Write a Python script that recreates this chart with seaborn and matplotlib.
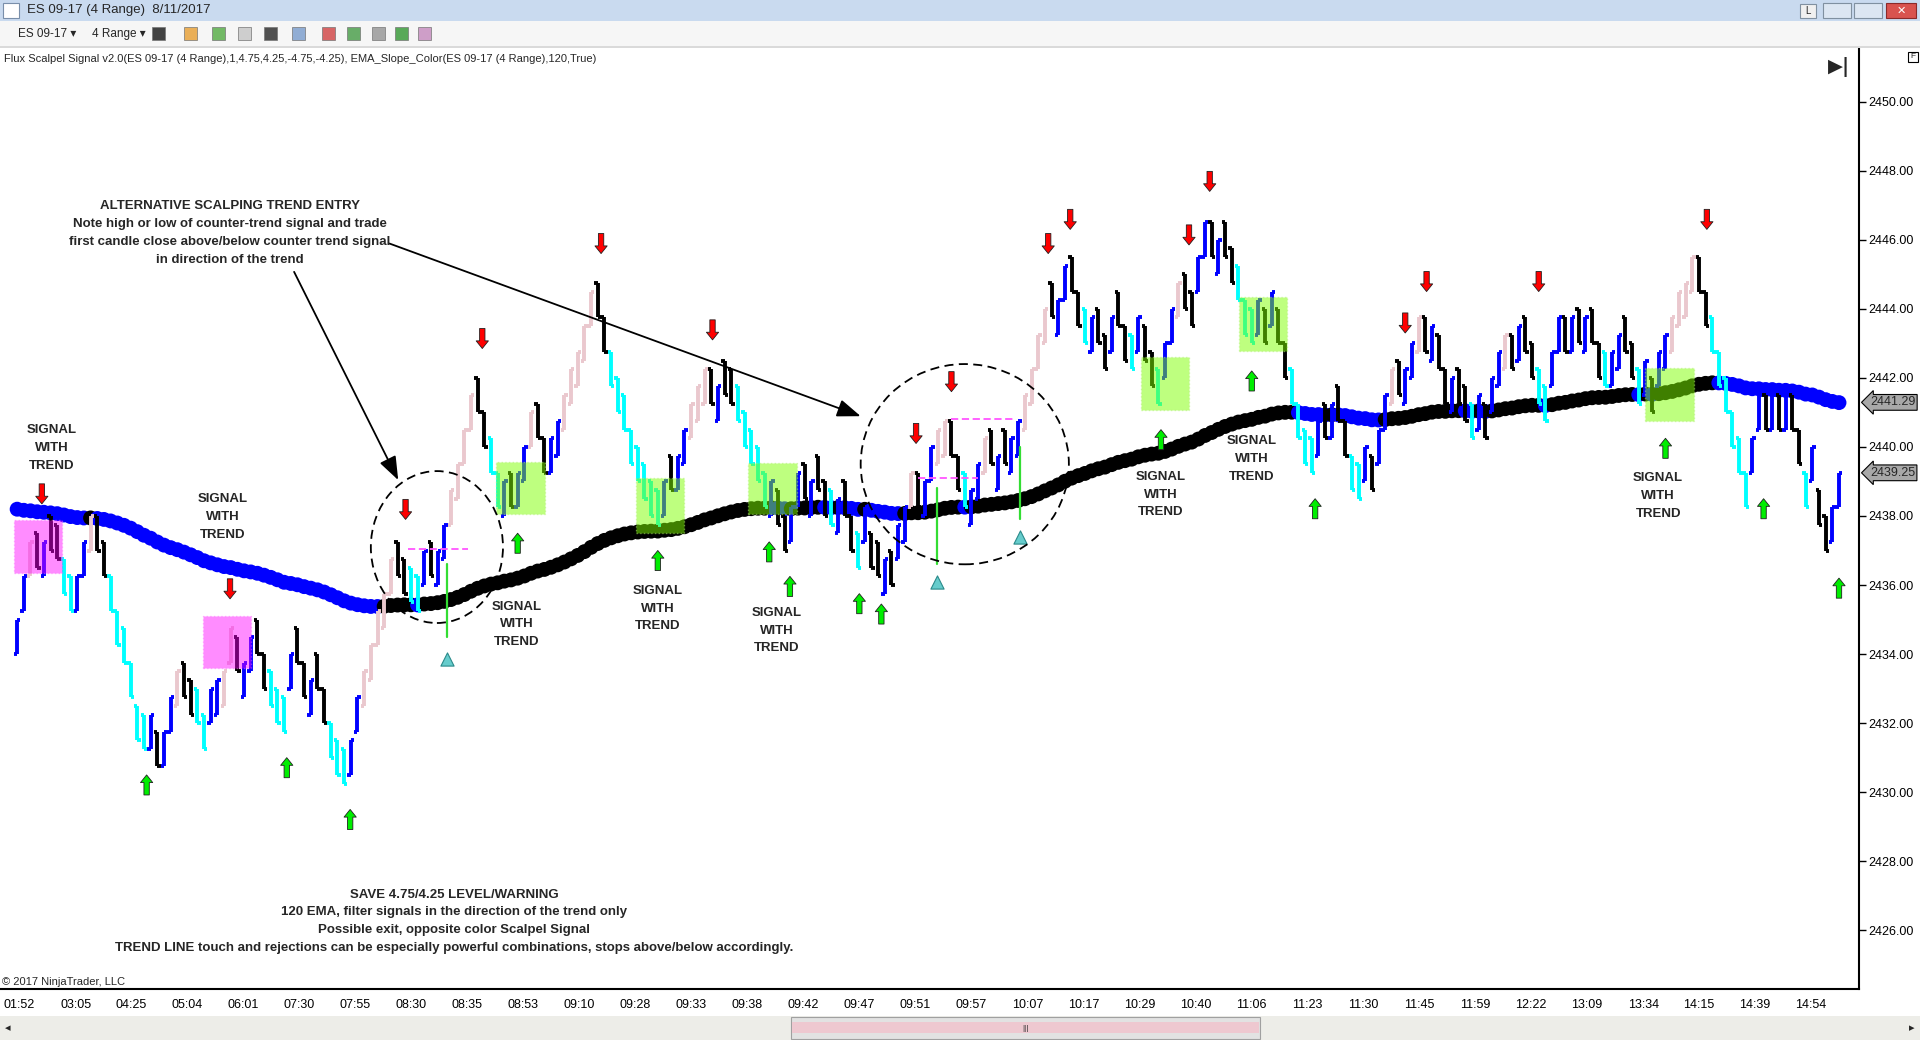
import numpy as np
import pandas as pd
import matplotlib
matplotlib.use('Agg')
import matplotlib.pyplot as plt
from matplotlib.patches import Rectangle, Ellipse
import seaborn as sns

# 4-range bar closes
closes = [
    2435.0, 2436.25, 2437.25, 2436.5, 2437.25, 2437.0, 2436.75, 2435.75,
    2435.25, 2436.25, 2437.25, 2438.0, 2437.0, 2436.25, 2435.25, 2434.25,
    2433.75, 2432.75, 2431.5, 2431.25, 2432.25, 2430.75, 2431.75, 2432.75,
    2433.5, 2432.75, 2432.25, 2432.0, 2431.25, 2433.0, 2433.25, 2433.5,
    2434.75, 2433.5, 2433.75, 2434.5, 2434.0, 2433.0, 2432.5, 2432.0,
    2431.75, 2434.0, 2433.75, 2432.75, 2433.25, 2433.0, 2432.0, 2431.0,
    2430.5, 2430.25, 2431.5, 2432.75, 2433.5, 2434.25, 2435.25, 2435.75,
    2436.75, 2436.25, 2435.75, 2435.5, 2435.25, 2437.0, 2436.25, 2437.0,
    2437.75, 2438.75, 2439.5, 2440.5, 2441.5, 2441.0, 2440.0, 2439.25,
    2438.25, 2439.0, 2438.25, 2439.25, 2440.0, 2441.0, 2440.25, 2439.25,
    2440.25, 2440.75, 2441.5, 2442.25, 2442.75, 2443.5, 2444.5, 2443.75,
    2442.75, 2441.75, 2441.0, 2440.5, 2439.5, 2439.0, 2438.5, 2438.0,
    2437.75, 2439.0, 2438.75, 2439.75, 2440.5, 2441.25, 2441.75, 2442.25,
    2441.25, 2441.75, 2441.5, 2441.25, 2440.75, 2440.0, 2439.5, 2439.0,
    2438.25, 2439.0, 2437.75, 2437.0, 2438.25, 2439.25, 2438.5, 2439.0,
    2438.75, 2438.0, 2437.75, 2438.5, 2438.0, 2437.0, 2436.5, 2438.25,
    2436.5, 2436.25, 2436.75, 2436.0, 2437.75, 2438.25, 2439.25, 2438.25,
    2439.0, 2440.0, 2440.5, 2440.75, 2439.75, 2438.75, 2438.25, 2438.75,
    2439.5, 2440.25, 2439.5,
    2439.75, 2439.5, 2440.25, 2440.75, 2441.5, 2442.25, 2443.25, 2444.0,
    2443.75, 2444.25, 2445.25, 2444.5, 2443.5, 2443.0, 2443.75, 2443.0,
    2442.25, 2443.75, 2443.5, 2442.5, 2442.25, 2443.75, 2442.5, 2441.75,
    2441.25, 2443.0, 2444.0, 2444.75, 2444.0, 2443.5, 2445.5, 2446.5,
    2445.5, 2446.0, 2445.5, 2444.75, 2444.25, 2443.25, 2443.0, 2444.25,
    2443.0, 2444.5, 2443.0, 2442.0, 2441.25, 2440.25, 2439.5, 2439.25,
    2440.75, 2440.25, 2441.25, 2440.75, 2439.75, 2438.75, 2438.5, 2440.0,
    2438.75, 2440.5, 2441.5, 2442.25, 2441.5, 2442.25, 2443.0, 2443.75,
    2442.75, 2443.5,
    2442.25, 2441.25, 2442.0, 2441.25, 2440.75, 2440.25, 2441.5, 2440.25,
    2442.0, 2442.75, 2443.25, 2442.25, 2443.5, 2442.75, 2442.0, 2441.25,
    2440.75, 2442.75, 2443.75, 2442.75, 2443.75, 2443.0, 2443.75, 2443.0,
    2442.0, 2441.75, 2442.75, 2443.25, 2442.75, 2442.0, 2441.25, 2442.5,
    2441.0, 2442.75, 2443.25, 2443.75, 2444.5, 2444.75, 2445.5, 2444.5,
    2443.5, 2442.75, 2441.75, 2441.0, 2440.0, 2439.25, 2438.25, 2440.25,
    2441.5, 2440.5, 2441.5, 2440.5, 2441.5, 2440.5, 2439.5, 2438.25,
    2440.0, 2437.75, 2437.0, 2438.25, 2439.25,
]
bar_range = 1.0
ema_period = 120
ema_seed = 2438.25          # EMA level where the chart starts
ema_last_label = 2441.29
last_price_label = 2439.25

time_labels = ['01:52', '03:05', '04:25', '05:04', '06:01', '07:30', '07:55', '08:30',
               '08:35', '08:53', '09:10', '09:28', '09:33', '09:38', '09:42', '09:47',
               '09:51', '09:57', '10:07', '10:17', '10:29', '10:40', '11:06', '11:23',
               '11:30', '11:45', '11:59', '12:22', '13:09', '13:34', '14:15', '14:39', '14:54']
price_ticks = list(range(2426, 2451, 2))

# scalpel signals (bar index, arrow tip price)
red_x = [3.7, 31.9, 58.2, 69.7, 87.5, 104.2, 134.7, 140.0, 154.5, 157.8, 175.6, 178.7,
         208.0, 211.2, 228.0, 253.2]
red_tip = [2438.35, 2435.6, 2437.9, 2442.85, 2445.6, 2443.1, 2440.1, 2441.6, 2445.6, 2446.3,
           2445.85, 2447.4, 2443.3, 2444.5, 2444.5, 2446.3]
green_x = [19.4, 40.4, 49.9, 75.0, 96.0, 112.7, 115.8, 126.2, 129.5, 171.4, 185.0, 194.5,
           247.0, 261.7, 273.0]
green_tip = [2430.5, 2431.0, 2429.5, 2437.5, 2437.0, 2437.25, 2436.25, 2435.75, 2435.45,
             2440.5, 2442.2, 2438.5, 2440.25, 2438.5, 2436.2]

# warning marks: triangle + green line
warn_x = [64.4, 137.8, 150.3]
warn_tri = [2433.85, 2436.1, 2437.4]
warn_lo = [2434.5, 2436.6, 2437.9]
warn_hi = [2436.6, 2438.8, 2440.0]

# dashed violet levels inside the circles
lvl_x0 = [58.5, 135.0, 140.0]
lvl_x1 = [67.5, 144.0, 149.5]
lvl_y = [2437.05, 2439.1, 2440.8]

# highlight boxes
mag_x0 = [-0.45, 27.9]
mag_x1 = [6.7, 35.05]
mag_lo = [2436.35, 2433.6]
mag_hi = [2437.87, 2435.1]
grn_x0 = [71.7, 92.8, 109.5, 168.4, 183.1, 243.9]
grn_x1 = [79.1, 100.0, 116.9, 175.6, 190.3, 251.2]
grn_lo = [2438.05, 2437.5, 2438.05, 2441.06, 2442.77, 2440.74]
grn_hi = [2439.57, 2439.11, 2439.54, 2442.59, 2444.33, 2442.3]

# dashed circles (center bar, center price, width bars, height price)
circ_x = [62.9, 142.0]
circ_y = [2437.1, 2439.5]
circ_w = [19.8, 31.2]
circ_h = [4.4, 5.8]

swt_x = [5.2, 30.8, 74.9, 96.0, 113.8, 171.4, 185.0, 245.9]
swt_y = [2439.96, 2437.98, 2434.86, 2435.32, 2434.68, 2438.62, 2439.65, 2438.58]

note_top = ('ALTERNATIVE SCALPING TREND ENTRY\n'
            'Note high or low of counter-trend signal and trade\n'
            'first candle close above/below counter trend signal\n'
            'in direction of the trend')
note_bottom = ('SAVE 4.75/4.25 LEVEL/WARNING\n'
               '120 EMA, filter signals in the direction of the trend only\n'
               'Possible exit, opposite color Scalpel Signal\n'
               'TREND LINE touch and rejections can be especially powerful combinations, '
               'stops above/below accordingly.')
indicator_label = ('Flux Scalpel Signal v2.0(ES 09-17 (4 Range),1,4.75,4.25,-4.75,-4.25), '
                   'EMA_Slope_Color(ES 09-17 (4 Range),120,True)')

# ---- derived bar geometry
c = pd.Series(closes, dtype=float)
idx = np.arange(len(c))
prev = c.shift(1).fillna(c.iloc[0] - bar_range)
up = c >= prev
highs = np.where(up, c, c + bar_range)
lows = np.where(up, c - bar_range, c)
opens = np.where(up, lows, highs)
run = up.groupby((up != up.shift()).cumsum()).cumcount() + 1
bar_colors = np.where(up, np.where(run >= 3, '#EAC8CE', '#0000FF'),
                      np.where(run >= 3, '#00FFFF', '#000000'))

ema = (pd.concat([pd.Series([ema_seed]), c], ignore_index=True)
       .ewm(span=ema_period, adjust=False).mean().iloc[1:].to_numpy())
slope = np.where(np.diff(ema, prepend=ema[0] + 1) < 0, 'falling', 'rising')

# ---- figure
sns.set_theme(style='white')
plt.rcParams['font.family'] = ['Liberation Sans', 'DejaVu Sans']
note_font = ['Liberation Sans Narrow', 'Liberation Sans', 'DejaVu Sans']

fig = plt.figure(figsize=(19.2, 10.4), dpi=100)
ax = fig.add_axes([0.0, 0.0487, 0.9681, 0.9042])
ax.set_xlim(-2.57, 275.96)
ax.set_ylim(2424.29, 2451.525)

sns.scatterplot(x=idx, y=ema, hue=slope, palette={'falling': '#0000FF', 'rising': '#000000'},
                s=115, linewidth=0, legend=False, ax=ax, zorder=2)

bar_lw = 2.8
ax.vlines(idx, lows, highs, colors=bar_colors, lw=bar_lw, zorder=3)
ax.hlines(opens, idx - 0.5, idx, colors=bar_colors, lw=bar_lw, zorder=3)
ax.hlines(c, idx, idx + 0.5, colors=bar_colors, lw=bar_lw, zorder=3)

for x0, x1, lo, hi in zip(mag_x0, mag_x1, mag_lo, mag_hi):
    ax.add_patch(Rectangle((x0, lo), x1 - x0, hi - lo, fc='#FF00FF', alpha=0.45,
                           ec='#FF66FF', ls=':', lw=1, zorder=4))
for x0, x1, lo, hi in zip(grn_x0, grn_x1, grn_lo, grn_hi):
    ax.add_patch(Rectangle((x0, lo), x1 - x0, hi - lo, fc='#7FFF00', alpha=0.5,
                           ec='#B0F070', ls=':', lw=1, zorder=4))

for x0, x1, y in zip(lvl_x0, lvl_x1, lvl_y):
    ax.plot([x0, x1], [y, y], color='#FF55FF', lw=1.3, ls=(0, (4, 2)), zorder=4)

for x, lo, hi in zip(warn_x, warn_lo, warn_hi):
    ax.plot([x, x], [lo, hi], color='#33DD33', lw=1.6, zorder=4)
sns.scatterplot(x=warn_x, y=warn_tri, marker='^', s=90, color='#66CCCC',
                edgecolor='#2A8A8A', linewidth=0.8, ax=ax, zorder=5)

for x, y, w, h in zip(circ_x, circ_y, circ_w, circ_h):
    ax.add_patch(Ellipse((x, y), w, h, fill=False, ec='black', lw=1.3,
                         ls=(0, (5, 3)), zorder=5))

arrow_style = 'simple,head_length=0.5,head_width=0.8,tail_width=0.35'
for x, tip in zip(red_x, red_tip):
    ax.annotate('', xy=(x, tip), xytext=(x, tip + 0.58), zorder=6,
                arrowprops=dict(arrowstyle=arrow_style, fc='#FF0000', ec='#202020', lw=0.6,
                                shrinkA=0, shrinkB=0, mutation_scale=11))
for x, tip in zip(green_x, green_tip):
    ax.annotate('', xy=(x, tip), xytext=(x, tip - 0.58), zorder=6,
                arrowprops=dict(arrowstyle=arrow_style, fc='#00EE00', ec='#202020', lw=0.6,
                                shrinkA=0, shrinkB=0, mutation_scale=11))

pointer = dict(arrowstyle='-|>,head_length=1.2,head_width=0.45', color='black', lw=1.3,
               mutation_scale=12, shrinkA=0, shrinkB=0)
ax.annotate('', xy=(57.1, 2439.04), xytext=(41.5, 2445.07), arrowprops=pointer, zorder=6)
ax.annotate('', xy=(126.4, 2440.89), xytext=(55.8, 2445.89), arrowprops=pointer, zorder=6)

note_kw = dict(ha='center', va='center', fontsize=9.5, fontweight='bold', family=note_font,
               linespacing=1.65, zorder=7)
ax.text(31.9, 2446.2, note_top, **note_kw)
ax.text(65.5, 2426.26, note_bottom, **note_kw)
for x, y in zip(swt_x, swt_y):
    ax.text(x, y, 'SIGNAL\nWITH\nTREND', **note_kw)

ax.text(0.002, 0.9896, indicator_label, transform=ax.transAxes, ha='left', va='center',
        fontsize=8)
ax.text(0.001, 0.003, '\u00a9 2017 NinjaTrader, LLC', transform=ax.transAxes, ha='left',
        va='bottom', fontsize=8)
ax.text(0.9895, 0.9805, '\u25b6|', transform=ax.transAxes, ha='center', va='center',
        fontsize=14, fontweight='bold', family=['DejaVu Sans'])

# axes
ax.set_xlabel('')
ax.set_ylabel('')
ax.yaxis.tick_right()
ax.set_yticks(price_ticks)
ax.set_yticklabels([f'{p:.2f}' for p in price_ticks])
ax.set_xticks(0.37 + 8.389 * np.arange(len(time_labels)))
ax.set_xticklabels(time_labels)
ax.tick_params(axis='both', direction='out', length=5, width=1, colors='black',
               labelsize=9, pad=2)
ax.tick_params(axis='x', labelsize=9, pad=2)
for side in ['left', 'top']:
    ax.spines[side].set_visible(False)
for side in ['right', 'bottom']:
    ax.spines[side].set_color('black')
    ax.spines[side].set_linewidth(1.5)
ax.grid(False)

yt = ax.get_yaxis_transform()
for val in [ema_last_label, last_price_label]:
    ax.text(1.006, val, f'{val:.2f}', transform=yt, ha='left', va='center', fontsize=9,
            bbox=dict(boxstyle='larrow,pad=0.15', fc='#A8A8A8', ec='black', lw=0.8),
            clip_on=False, zorder=8)


# ---- window chrome (pixels in the 1920x1040 frame)
def fx(px):
    return px / 1920


def fy(py):
    return 1 - py / 1040


def box(x0, y0, x1, y1, **kw):
    fig.add_artist(Rectangle((fx(x0), fy(y1)), fx(x1) - fx(x0), (y1 - y0) / 1040,
                             transform=fig.transFigure, **kw))


box(0, 0, 1920, 21, fc='#C9DAEF', ec='none')
box(3, 3, 19, 18, fc='white', ec='#7A8FAA', lw=0.8)
fig.text(fx(27), fy(10.5), 'ES 09-17 (4 Range)  8/11/2017', fontsize=9.5, va='center')
box(1800, 4, 1816, 18, fc='#F0F0F0', ec='#8090A0', lw=0.8)
box(1823, 3, 1851, 18, fc='#DCE6F2', ec='#8090A0', lw=0.8)
box(1854, 3, 1882, 18, fc='#DCE6F2', ec='#8090A0', lw=0.8)
box(1886, 3, 1916, 18, fc='#D9534F', ec='#8B2A2A', lw=0.8)
fig.text(fx(1808), fy(11), 'L', fontsize=7, ha='center', va='center')
fig.text(fx(1901), fy(10.5), '\u2715', fontsize=8, ha='center', va='center', color='white',
         family=['DejaVu Sans'])

box(0, 21, 1920, 46, fc='#F6F6F6', ec='none')
box(0, 46, 1920, 47.5, fc='#DADADA', ec='none')
fig.text(fx(18), fy(34), 'ES 09-17 \u25be', fontsize=8.5, va='center',
         family=['Liberation Sans', 'DejaVu Sans'])
fig.text(fx(92), fy(34), '4 Range \u25be', fontsize=8.5, va='center',
         family=['Liberation Sans', 'DejaVu Sans'])
icon_x = [152, 184, 212, 238, 264, 292, 322, 347, 372, 395, 418]
icon_c = ['#222222', '#E8A33C', '#5BAF4C', '#C8C8C8', '#333333', '#7FA0CF', '#D24C4C',
          '#4FA04F', '#9A9A9A', '#3C9C3C', '#C88FC0']
for x, col in zip(icon_x, icon_c):
    box(x, 27, x + 13, 40, fc=col, ec='#777777', lw=0.6, alpha=0.85)

box(1908, 52, 1918, 62, fc='white', ec='black', lw=0.8)
fig.text(fx(1913), fy(57), 'F', fontsize=6, ha='center', va='center')

box(0, 1016, 1920, 1040, fc='#EDEDE8', ec='none')
box(791, 1017, 1260, 1039, fc='#E2E2E2', ec='#A0A0A0', lw=0.8)
box(792, 1022, 1259, 1033, fc='#EEC8D0', ec='none')
fig.text(fx(1025), fy(1028), '|||', fontsize=6, ha='center', va='center')
fig.text(fx(8), fy(1028), '\u25c2', fontsize=8, ha='center', va='center', family=['DejaVu Sans'])
fig.text(fx(1912), fy(1028), '\u25b8', fontsize=8, ha='center', va='center',
         family=['DejaVu Sans'])

fig.savefig('out.png', dpi=100)
